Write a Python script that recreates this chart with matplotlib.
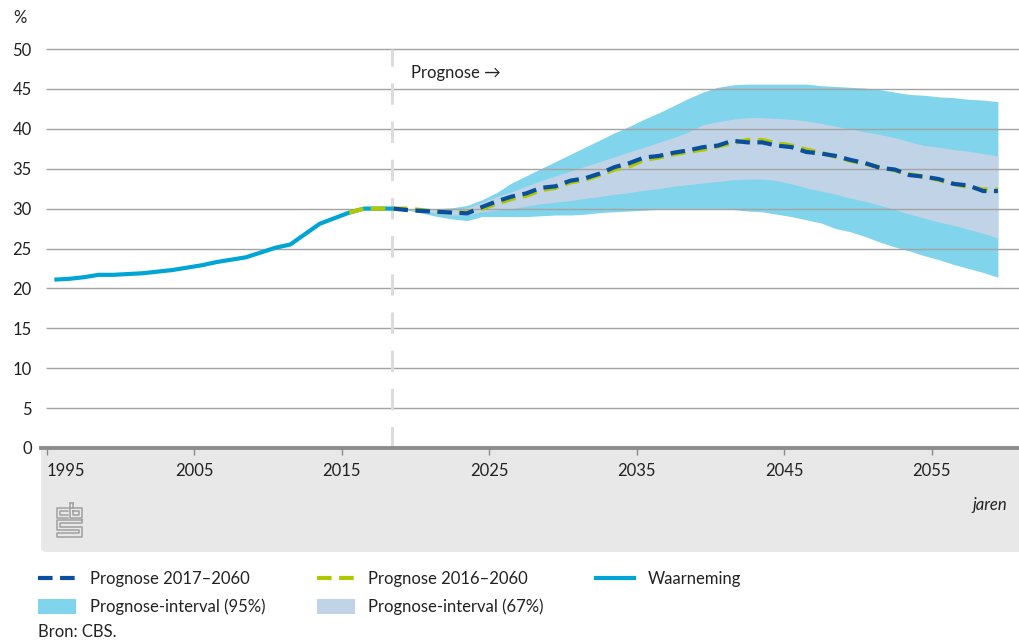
import matplotlib
matplotlib.use('Agg')
import matplotlib.pyplot as plt
from matplotlib.patches import FancyBboxPatch, Patch
from matplotlib.lines import Line2D
import numpy as np

plt.rcParams['font.family'] = ['Lato', 'DejaVu Sans']

# ---------------- data ----------------
obs_years = list(range(1996, 2020))
obs_values = [21.1, 21.2, 21.4, 21.7, 21.7, 21.8, 21.9, 22.1, 22.3, 22.6, 22.9, 23.3,
              23.6, 23.9, 24.5, 25.1, 25.5, 26.8, 28.1, 28.8, 29.5, 30.0, 30.0, 30.0]

prog2016_years = list(range(2016, 2061))
prog2016_values = [29.5, 30.0, 30.0, 30.0, 30.0, 29.8, 29.6, 29.5, 29.5, 30.0,
                   30.6, 31.2, 31.6, 32.3, 32.6, 33.3, 33.6, 34.2, 34.9, 35.3,
                   36.1, 36.4, 36.8, 37.1, 37.4, 37.8, 38.2, 38.6, 38.6, 38.2,
                   37.9, 37.4, 37.0, 36.5, 36.0, 35.6, 35.2, 34.8, 34.3, 34.0,
                   33.6, 33.1, 32.7, 32.4, 32.4]

prog2017_years = list(range(2019, 2061))
prog2017_values = [30.0, 29.8, 29.7, 29.6, 29.5, 29.4, 30.2, 30.9, 31.5, 31.9,
                   32.6, 32.8, 33.5, 33.8, 34.4, 35.2, 35.7, 36.4, 36.6, 37.0,
                   37.3, 37.7, 37.9, 38.5, 38.3, 38.3, 37.9, 37.7, 37.1, 36.9,
                   36.6, 36.1, 35.7, 35.1, 34.9, 34.2, 34.0, 33.7, 33.1, 32.9,
                   32.2, 32.2]

band_years = list(range(2019, 2061))
p95_low = [30.0, 29.8, 29.4, 29.0, 28.7, 28.5, 29.0, 29.0, 29.0, 29.0,
           29.1, 29.2, 29.2, 29.3, 29.5, 29.6, 29.7, 29.8, 29.9, 30.0,
           30.0, 30.0, 29.9, 29.9, 29.7, 29.6, 29.3, 29.0, 28.6, 28.2,
           27.5, 27.1, 26.5, 25.8, 25.2, 24.7, 24.1, 23.6, 23.0, 22.5,
           22.0, 21.4]
p95_high = [30.0, 30.0, 30.0, 30.0, 30.1, 30.4, 31.1, 32.0, 33.2, 34.1,
            35.0, 35.9, 36.8, 37.7, 38.6, 39.5, 40.3, 41.2, 42.0, 42.9,
            43.8, 44.6, 45.2, 45.5, 45.6, 45.6, 45.6, 45.6, 45.6, 45.4,
            45.3, 45.2, 45.1, 44.9, 44.6, 44.3, 44.2, 44.0, 43.9, 43.7,
            43.6, 43.4]
p67_low = [30.0, 29.9, 29.7, 29.4, 29.2, 29.2, 29.6, 29.8, 30.0, 30.3,
           30.6, 30.8, 31.0, 31.3, 31.5, 31.8, 32.0, 32.3, 32.5, 32.8,
           33.0, 33.2, 33.4, 33.6, 33.7, 33.7, 33.5, 33.1, 32.6, 32.2,
           31.8, 31.3, 30.9, 30.4, 29.9, 29.3, 28.8, 28.3, 27.9, 27.4,
           26.9, 26.3]
p67_high = [30.0, 30.0, 29.9, 29.9, 29.9, 30.1, 30.8, 31.5, 32.1, 32.8,
            33.5, 34.1, 34.7, 35.3, 35.9, 36.5, 37.1, 37.7, 38.3, 38.9,
            39.6, 40.5, 40.9, 41.2, 41.4, 41.4, 41.3, 41.2, 41.0, 40.7,
            40.3, 40.0, 39.6, 39.3, 38.9, 38.4, 37.9, 37.7, 37.4, 37.2,
            36.9, 36.6]

x_ticks = [1995, 2005, 2015, 2025, 2035, 2045, 2055]
x_ticklabels = ['1995', '2005', '2015', '2025', '2035', '2045', '2055']
y_ticks = [0, 5, 10, 15, 20, 25, 30, 35, 40, 45, 50]
prognose_start = 2018.4
legend_labels = ['Prognose 2017\u20132060', 'Prognose-interval (95%)',
                 'Prognose 2016\u20132060', 'Prognose-interval (67%)', 'Waarneming']

# ---------------- styling ----------------
C_OBS = '#00a5d6'
C_P17 = '#0a4f9e'
C_P16 = '#b1c800'
C_95 = '#80d4eb'
C_67 = '#c1d3e6'
C_GRID = '#a3a3a3'
C_TXT = '#222222'
FS = 12

W, H = 1020, 640
fig = plt.figure(figsize=(W / 100, H / 100), dpi=100)

def fx(px):
    return px / W

def fy(py):
    return 1 - py / H

# grey panel below the plot
panel = FancyBboxPatch((fx(41), fy(552)), fx(1030) - fx(41), fy(448) - fy(552),
                       boxstyle='round,pad=0,rounding_size=0.006',
                       transform=fig.transFigure, fc='#e8e8e8', ec='none', zorder=-5)
fig.patches.append(panel)

ax = fig.add_axes([fx(47), fy(448), 1 - fx(47), fy(49) - fy(448)])
ax.set_facecolor('none')
ax.set_xlim(1995, 2061)
ax.set_ylim(0, 50)

off = -0.5  # yearly values are centred in their year slot
xb = np.array(band_years) + off

ax.fill_between(xb, p95_low, p95_high, color=C_95, lw=0, zorder=1)
ax.fill_between(xb, p67_low, p67_high, color=C_67, lw=0, zorder=1.1)

for yv in y_ticks[1:]:
    ax.plot([1995 - 0.07, 2061], [yv, yv], color=C_GRID, lw=1.0, zorder=1.5,
            clip_on=False, solid_capstyle='butt')

ax.axvline(prognose_start, color='#dcdcdc', lw=2.2, dashes=(7, 5.5), zorder=1.6,
           clip_on=False)

ax.plot(np.array(obs_years) + off, obs_values, color=C_OBS, lw=3.0, zorder=2,
        solid_capstyle='butt', solid_joinstyle='round')
ax.plot(np.array(prog2016_years) + off, prog2016_values, color=C_P16, lw=3.0,
        dashes=(3.5, 1.8), zorder=3)
ax.plot(np.array(prog2017_years) + off, prog2017_values, color=C_P17, lw=3.0,
        dashes=(3.5, 1.8), zorder=4)

ax.text(2019.7, 47.0, 'Prognose \u2192', fontsize=FS, color=C_TXT, va='center',
        ha='left', family=['Lato', 'DejaVu Sans'])

for s in ax.spines.values():
    s.set_visible(False)

ax.set_yticks(y_ticks)
ax.set_yticklabels([str(v) for v in y_ticks])
ax.tick_params(axis='y', length=0, pad=11, labelsize=FS, labelcolor=C_TXT)
ax.set_xticks(x_ticks)
ax.set_xticklabels(x_ticklabels)
ax.tick_params(axis='x', length=5, width=1, color='#8c8c8c', pad=6,
               labelsize=FS, labelcolor=C_TXT)
ax.get_xticklabels()[0].set_horizontalalignment('left')

# thick base line
fig.add_artist(Line2D([fx(41), 1.0], [fy(448), fy(448)], color='#8c8c8c', lw=2.8,
                      transform=fig.transFigure, zorder=5))

fig.text(fx(13), fy(18), '%', fontsize=FS, color=C_TXT, ha='left', va='center')
fig.text(fx(1007), fy(505), 'jaren', fontsize=FS, color=C_TXT, ha='right', va='center',
         style='italic')

# CBS logo (simplified)
lc = '#a0a0a0'
def L(xs, ys):
    fig.add_artist(Line2D([fx(v) for v in xs], [fy(v) for v in ys], color=lc, lw=1.1,
                          transform=fig.transFigure, zorder=6))
# c
L([68, 57, 57, 68], [508, 508, 518, 518])
L([68, 60, 60, 68], [511, 511, 515, 515])
# b
L([70, 70, 82, 82, 70], [503, 518, 518, 508, 508])
L([73, 73, 79, 79, 73], [511, 515, 515, 511, 511])
L([73, 73], [503, 508])
L([70, 73], [503, 503])
# S
L([82, 57, 57, 79, 79, 57, 57, 82, 82, 60, 60, 82, 82],
  [520, 520, 530, 530, 533, 533, 537, 537, 527, 527, 523, 523, 520])

# legend
handles = [
    Line2D([], [], color=C_P17, lw=3.0, dashes=(3.5, 1.8)),
    Patch(facecolor=C_95, edgecolor='none'),
    Line2D([], [], color=C_P16, lw=3.0, dashes=(3.5, 1.8)),
    Patch(facecolor=C_67, edgecolor='none'),
    Line2D([], [], color=C_OBS, lw=3.0),
]
leg = fig.legend(handles, legend_labels, loc='upper left',
                 bbox_to_anchor=(fx(38), fy(571)), ncol=3, frameon=False,
                 fontsize=FS, handlelength=2.3, handleheight=1.0, handletextpad=0.8,
                 columnspacing=3.1, labelspacing=0.67, borderpad=0, borderaxespad=0)
for t in leg.get_texts():
    t.set_color(C_TXT)

fig.text(fx(38), fy(632), 'Bron: CBS.', fontsize=FS, color=C_TXT, ha='left', va='center')

fig.savefig('out.png', dpi=100)
